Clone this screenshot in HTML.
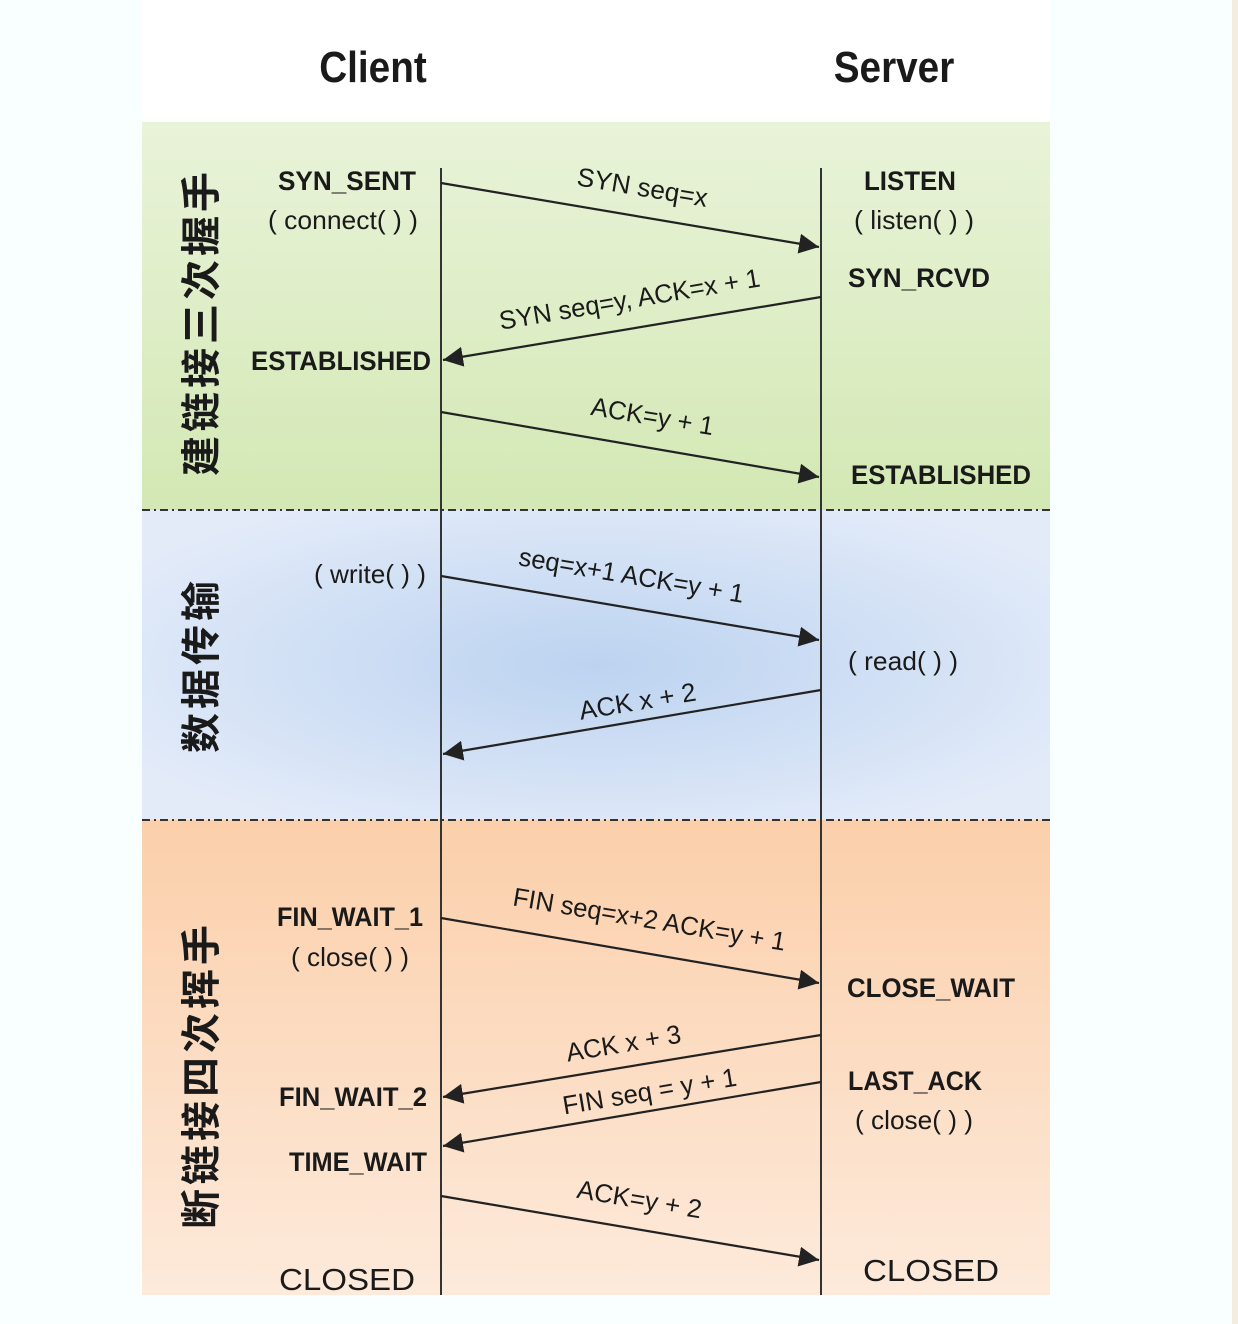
<!DOCTYPE html>
<html><head><meta charset="utf-8"><style>
html,body{margin:0;padding:0;background:#f8fffe;}
svg{display:block}
text{font-family:"Liberation Sans","Noto Sans CJK SC",sans-serif;fill:#1a1a1a}
.b{font-weight:bold;font-size:27px}
.n{font-size:26px}
.z{font-family:"Noto Sans CJK SC",sans-serif;font-size:40px;font-weight:bold}
</style></head><body>
<svg width="1238" height="1324" viewBox="0 0 1238 1324" xmlns="http://www.w3.org/2000/svg">
<defs>
<radialGradient id="bg" cx="0.5" cy="0.5" r="0.6"><stop offset="0" stop-color="#bcd3f0"/><stop offset="1" stop-color="#e3ebf9"/></radialGradient>
<linearGradient id="gg" x1="0" y1="0" x2="0" y2="1"><stop offset="0" stop-color="#e9f3d9"/><stop offset="1" stop-color="#d3e8b4"/></linearGradient>
<linearGradient id="og" x1="0" y1="0" x2="0" y2="1"><stop offset="0" stop-color="#fbcfaa"/><stop offset="1" stop-color="#fdeadb"/></linearGradient>
<marker id="a" viewBox="0 0 10 10" refX="10" refY="5" markerWidth="20" markerHeight="20" orient="auto" markerUnits="userSpaceOnUse"><path d="M0,0L10,5L0,10z" fill="#222"/></marker>
</defs>
<rect x="1232" y="0" width="6" height="1324" fill="#f3ece0"/>
<rect x="142" y="0" width="908" height="122" fill="#fff"/>
<rect x="142" y="122" width="908" height="388" fill="url(#gg)"/>
<rect x="142" y="510" width="908" height="310" fill="url(#bg)"/>
<rect x="142" y="820" width="908" height="475" fill="url(#og)"/>
<line x1="142" y1="510" x2="1050" y2="510" stroke="#333" stroke-width="2" stroke-dasharray="8,4,2,4"/>
<line x1="142" y1="820" x2="1050" y2="820" stroke="#333" stroke-width="2" stroke-dasharray="8,4,2,4"/>
<line x1="441" y1="168" x2="441" y2="1295" stroke="#333" stroke-width="2"/>
<line x1="821" y1="168" x2="821" y2="1295" stroke="#333" stroke-width="2"/>
<text x="373" y="82" text-anchor="middle" font-weight="bold" font-size="44" transform="translate(373 0) scale(0.88 1) translate(-373 0)">Client</text>
<text x="894" y="82" text-anchor="middle" font-weight="bold" font-size="44" transform="translate(894 0) scale(0.88 1) translate(-894 0)">Server</text>
<g transform="rotate(-90)">
<text class="z" x="-322" y="215" text-anchor="middle" letter-spacing="4">建链接三次握手</text>
<text class="z" x="-665" y="215" text-anchor="middle" letter-spacing="4">数据传输</text>
<text class="z" x="-1075" y="215" text-anchor="middle" letter-spacing="4">断链接四次挥手</text>
</g>
<g stroke="#222" stroke-width="2.2" marker-end="url(#a)">
<line x1="441" y1="183" x2="819" y2="247"/>
<line x1="821" y1="297" x2="443" y2="360"/>
<line x1="441" y1="412" x2="819" y2="477"/>
<line x1="441" y1="576" x2="819" y2="640"/>
<line x1="821" y1="690" x2="443" y2="754"/>
<line x1="441" y1="918" x2="819" y2="983"/>
<line x1="821" y1="1035" x2="443" y2="1097"/>
<line x1="821" y1="1082" x2="443" y2="1146"/>
<line x1="441" y1="1196" x2="819" y2="1260"/>
</g>
<g class="n" text-anchor="middle">
<text transform="translate(641 196) rotate(9.5)" textLength="132" lengthAdjust="spacingAndGlyphs">SYN seq=x</text>
<text transform="translate(631 308) rotate(-9.5)" textLength="264" lengthAdjust="spacingAndGlyphs">SYN seq=y, ACK=x + 1</text>
<text transform="translate(651 425) rotate(9.5)" textLength="124" lengthAdjust="spacingAndGlyphs">ACK=y + 1</text>
<text transform="translate(630 584) rotate(9.5)" textLength="228" lengthAdjust="spacingAndGlyphs">seq=x+1 ACK=y + 1</text>
<text transform="translate(639 710) rotate(-9.5)" textLength="118" lengthAdjust="spacingAndGlyphs">ACK x + 2</text>
<text transform="translate(648 928) rotate(9.5)" textLength="276" lengthAdjust="spacingAndGlyphs">FIN seq=x+2 ACK=y + 1</text>
<text transform="translate(625 1052) rotate(-9.5)" textLength="116" lengthAdjust="spacingAndGlyphs">ACK x + 3</text>
<text transform="translate(651 1100) rotate(-9.5)" textLength="176" lengthAdjust="spacingAndGlyphs">FIN seq = y + 1</text>
<text transform="translate(638 1208) rotate(9.5)" textLength="126" lengthAdjust="spacingAndGlyphs">ACK=y + 2</text>
</g>
<g class="b" text-anchor="middle">
<text x="347" y="190" textLength="138" lengthAdjust="spacingAndGlyphs">SYN_SENT</text>
<text x="910" y="190" textLength="92" lengthAdjust="spacingAndGlyphs">LISTEN</text>
<text x="919" y="287" textLength="142" lengthAdjust="spacingAndGlyphs">SYN_RCVD</text>
<text x="341" y="370" textLength="180" lengthAdjust="spacingAndGlyphs">ESTABLISHED</text>
<text x="941" y="484" textLength="180" lengthAdjust="spacingAndGlyphs">ESTABLISHED</text>
<text x="350" y="926" textLength="146" lengthAdjust="spacingAndGlyphs">FIN_WAIT_1</text>
<text x="931" y="997" textLength="168" lengthAdjust="spacingAndGlyphs">CLOSE_WAIT</text>
<text x="353" y="1106" textLength="148" lengthAdjust="spacingAndGlyphs">FIN_WAIT_2</text>
<text x="915" y="1090" textLength="134" lengthAdjust="spacingAndGlyphs">LAST_ACK</text>
<text x="358" y="1171" textLength="138" lengthAdjust="spacingAndGlyphs">TIME_WAIT</text>
</g>
<g class="n" text-anchor="middle" fill="#333">
<text x="343" y="229" textLength="150" lengthAdjust="spacingAndGlyphs">( connect( ) )</text>
<text x="914" y="229" textLength="120" lengthAdjust="spacingAndGlyphs">( listen( ) )</text>
<text x="370" y="583" textLength="112" lengthAdjust="spacingAndGlyphs">( write( ) )</text>
<text x="903" y="670" textLength="110" lengthAdjust="spacingAndGlyphs">( read( ) )</text>
<text x="350" y="966" textLength="118" lengthAdjust="spacingAndGlyphs">( close( ) )</text>
<text x="914" y="1129" textLength="118" lengthAdjust="spacingAndGlyphs">( close( ) )</text>
</g>
<text x="347" y="1290" text-anchor="middle" font-size="31" textLength="136" lengthAdjust="spacingAndGlyphs">CLOSED</text>
<text x="931" y="1281" text-anchor="middle" font-size="31" textLength="136" lengthAdjust="spacingAndGlyphs">CLOSED</text>
</svg>
</body></html>
